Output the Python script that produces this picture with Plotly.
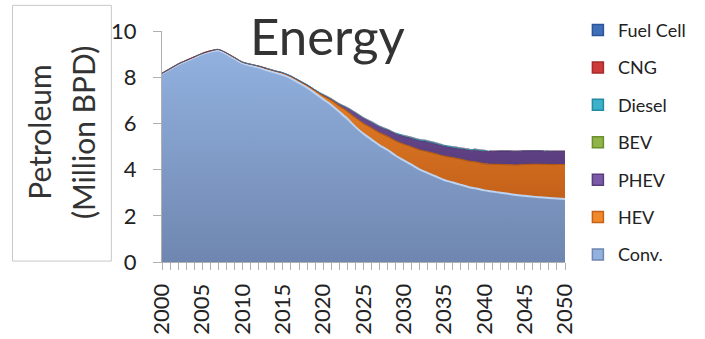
import plotly.graph_objects as go

years = list(range(2000, 2051))

# Petroleum use by vehicle technology (million barrels per day)
conv = [8.15, 8.35, 8.55, 8.70, 8.85, 9.00, 9.10, 9.15, 9.00, 8.80,
        8.60, 8.50, 8.42, 8.30, 8.20, 8.10, 7.95, 7.75, 7.55, 7.30,
        7.05, 6.80, 6.50, 6.20, 5.85, 5.55, 5.30, 5.05, 4.85, 4.60,
        4.40, 4.20, 4.00, 3.85, 3.70, 3.55, 3.45, 3.35, 3.25, 3.18,
        3.10, 3.05, 3.00, 2.95, 2.90, 2.87, 2.83, 2.80, 2.77, 2.75,
        2.73]
hev = [0.02, 0.02, 0.02, 0.03, 0.03, 0.03, 0.04, 0.05, 0.05, 0.05,
       0.05, 0.06, 0.06, 0.07, 0.07, 0.08, 0.08, 0.09, 0.10, 0.12,
       0.15, 0.20, 0.25, 0.32, 0.40, 0.45, 0.50, 0.54, 0.58, 0.64,
       0.70, 0.78, 0.85, 0.92, 0.98, 1.03, 1.07, 1.10, 1.12, 1.14,
       1.15, 1.18, 1.22, 1.26, 1.30, 1.35, 1.40, 1.43, 1.45, 1.47,
       1.49]
phev = [0.00, 0.00, 0.00, 0.00, 0.00, 0.00, 0.00, 0.00, 0.00, 0.00,
        0.00, 0.00, 0.00, 0.01, 0.01, 0.01, 0.02, 0.02, 0.02, 0.03,
        0.03, 0.05, 0.08, 0.14, 0.20, 0.22, 0.24, 0.26, 0.28, 0.31,
        0.34, 0.37, 0.40, 0.43, 0.43, 0.43, 0.43, 0.45, 0.48, 0.51,
        0.54, 0.56, 0.58, 0.59, 0.59, 0.59, 0.58, 0.58, 0.57, 0.57,
        0.57]
bev = [0.0] * 20 + [0.01] * 31
diesel = [0.01] * 10 + [0.02] * 10 + [0.03] * 10 + [0.04] * 11 + [0.01] * 10
cng = [0.0] * 20 + [0.01] * 31
fuel_cell = [0.0] * 25 + [0.01] * 26

# name, values, dark fill, light fill, edge colour, edge width
series = [
    ("Conv.", conv, "#6f87b0", "#92b1df", "#bcd3f2", 2.0),
    ("HEV", hev, "#c4611a", "#f0892a", "#b35a12", 1.2),
    ("PHEV", phev, "#5a3d7e", "#7b5aa6", "#4d3470", 1.0),
    ("BEV", bev, "#6b8e2f", "#8fb548", "#8fb548", 0),
    ("Diesel", diesel, "#238aa0", "#3cb1c9", "#3cb1c9", 0),
    ("CNG", cng, "#a52a2a", "#cc3b3b", "#cc3b3b", 0),
    ("Fuel Cell", fuel_cell, "#2a5597", "#3f6fb8", "#3f6fb8", 0),
]

fig = go.Figure()
for name, vals, dark, light, edge, lw in series:
    fig.add_trace(go.Scatter(
        x=years, y=vals, name=name, mode="lines",
        stackgroup="one", showlegend=False,
        line=dict(color=edge, width=lw, shape="spline", smoothing=0.8),
        fillgradient=dict(type="vertical",
                          colorscale=[[0, dark], [1, light]]),
        fillcolor=light,
    ))

# square legend keys, top of the stack listed first
for name, vals, dark, light, edge, lw in reversed(series):
    fig.add_trace(go.Scatter(
        x=[None], y=[None], name=name, mode="markers",
        legendgroup=name, showlegend=True,
        marker=dict(symbol="square", size=11, color=light,
                    line=dict(color=dark, width=1.5)),
    ))

fig.update_layout(
    width=705, height=339,
    margin=dict(l=162, r=140, t=28, b=77),
    paper_bgcolor="white", plot_bgcolor="white",
    font=dict(family="Lato, 'Open Sans', sans-serif", color="#222222"),
    showlegend=True,
    legend=dict(x=1.032, xanchor="left", y=1.083, yanchor="top",
                traceorder="grouped", tracegroupgap=11,
                font=dict(size=18, color="#222222"),
                itemwidth=30, maxheight=335),
    xaxis=dict(range=[2000, 2050], tickvals=list(range(2000, 2051, 5)),
               tickangle=-90, tickfont=dict(size=22),
               showgrid=False, zeroline=False, automargin=False,
               showline=True, linecolor="#b0b0b0", linewidth=1,
               ticks="outside", ticklen=7, tickcolor="#b0b0b0",
               ticklabelstandoff=5,
               minor=dict(ticks="outside", ticklen=7, dtick=1,
                          tickcolor="#b0b0b0")),
    yaxis=dict(range=[0, 10], dtick=2, tickfont=dict(size=22),
               showgrid=False, zeroline=False, automargin=False,
               showline=True, linecolor="#b0b0b0", linewidth=1,
               ticks="outside", ticklen=8, tickcolor="#b0b0b0",
               ticklabelstandoff=12),
    annotations=[
        dict(text="Energy", xref="paper", yref="paper", x=0.41, y=1.12,
             xanchor="center", yanchor="top", showarrow=False,
             font=dict(size=51, color="#333333")),
        dict(text="Petroleum", xref="paper", yref="paper", x=-0.305, y=0.56,
             xanchor="center", yanchor="middle", textangle=-90,
             showarrow=False, font=dict(size=30, color="#333333")),
        dict(text="(Million BPD)", xref="paper", yref="paper", x=-0.1975, y=0.56,
             xanchor="center", yanchor="middle", textangle=-90,
             showarrow=False, font=dict(size=30, color="#333333")),
    ],
    shapes=[
        dict(type="rect", xref="paper", yref="paper",
             x0=-0.371, x1=-0.1257, y0=0.004, y1=1.111,
             line=dict(color="#c8c8c8", width=1), fillcolor="rgba(0,0,0,0)"),
    ],
)

fig.write_html("out.html")
